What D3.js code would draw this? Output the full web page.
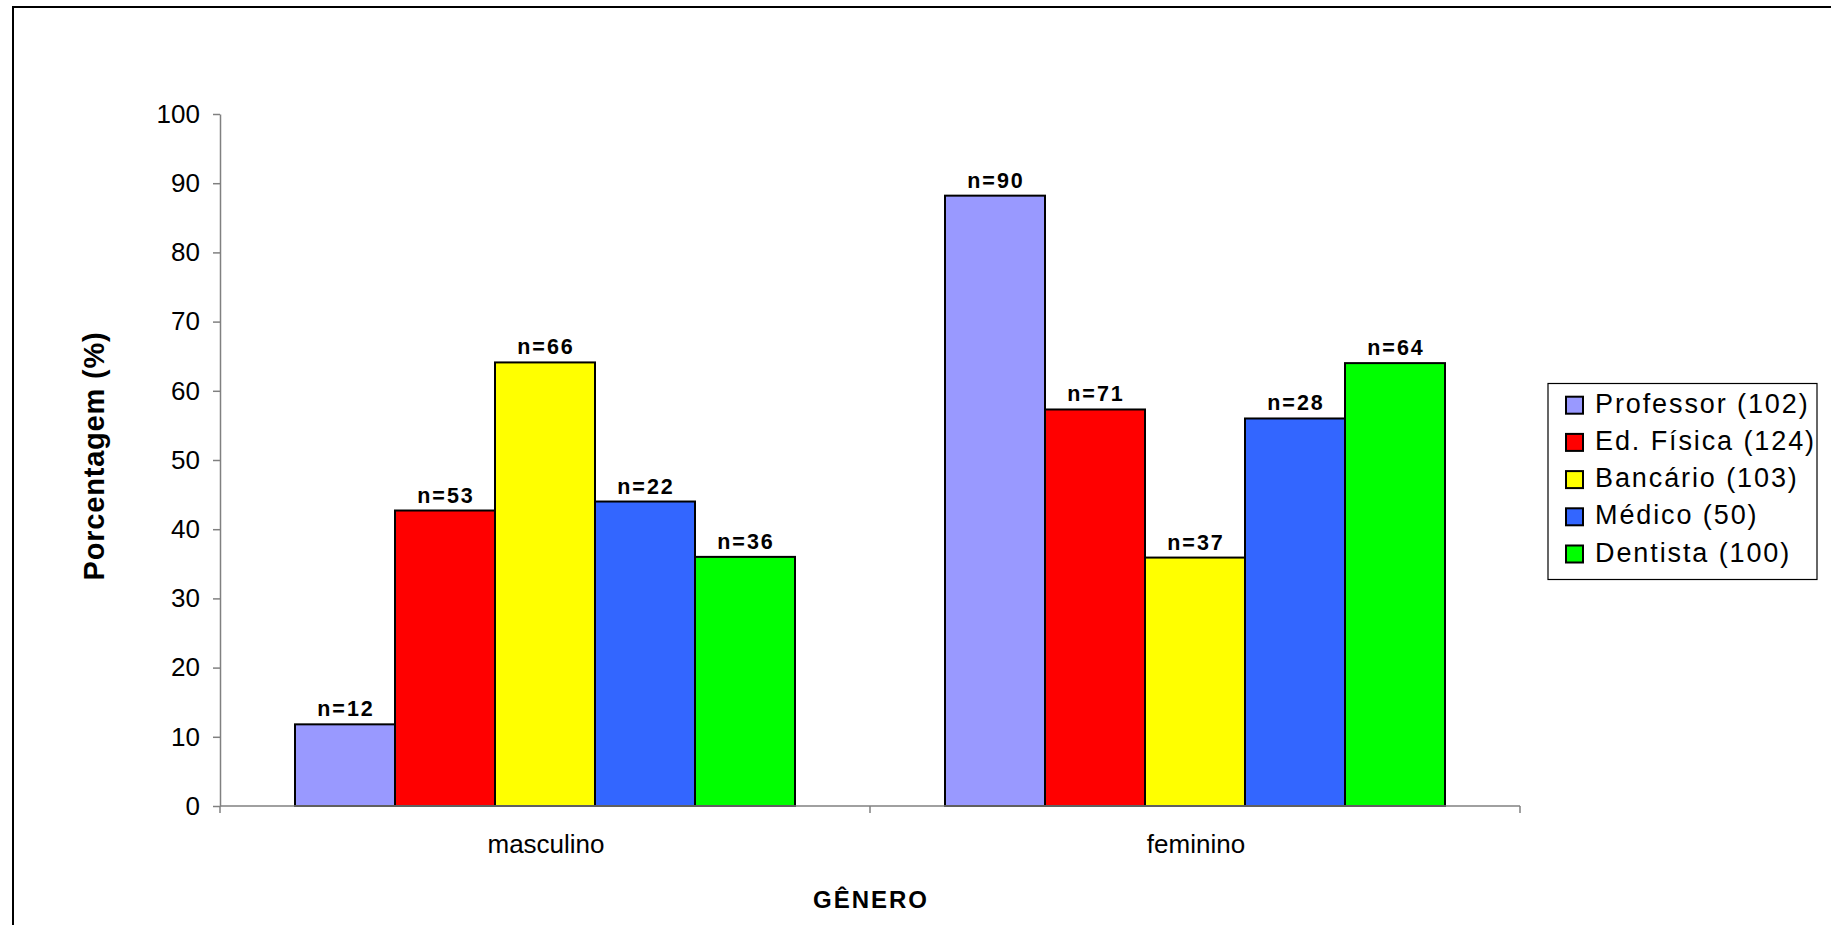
<!DOCTYPE html>
<html>
<head>
<meta charset="utf-8">
<script src="https://cdn.jsdelivr.net/npm/d3@7"></script>
<style>
  html, body { margin: 0; padding: 0; background: #fff; }
  svg { display: block; font-family: Arial, "Liberation Sans", sans-serif; }
</style>
</head>
<body>
<svg id="chart" width="1831" height="925"></svg>
<script>
// Gender groups on the x axis
const categories = ["masculino", "feminino"];

// Professions (series) and their sample totals shown in the legend
const professions = ["Professor", "Ed. Física", "Bancário", "Médico", "Dentista"];
const totals = [102, 124, 103, 50, 100];
const colors = ["#9999FF", "#FF0000", "#FFFF00", "#3366FF", "#00FF00"];

// Percentage by gender for each profession
const pctMasculino = [11.8, 42.7, 64.1, 44, 36];
const pctFeminino  = [88.2, 57.3, 35.9, 56, 64];

// Absolute counts printed above each bar
const nMasculino = [12, 53, 66, 22, 36];
const nFeminino  = [90, 71, 37, 28, 64];

// Y axis tick values
const yTicks = [0, 10, 20, 30, 40, 50, 60, 70, 80, 90, 100];

const pctByCat = { masculino: pctMasculino, feminino: pctFeminino };
const nByCat = { masculino: nMasculino, feminino: nFeminino };

const svg = d3.select("#chart");

// Outer frame
svg.append("rect")
  .attr("x", 13).attr("y", 7)
  .attr("width", 1840).attr("height", 940)
  .attr("fill", "none").attr("stroke", "#000").attr("stroke-width", 2);

const plot = { left: 220, right: 1520, top: 114, bottom: 806 };

const x0 = d3.scaleBand().domain(categories).range([plot.left, plot.right]);
const x1 = d3.scaleBand().domain(professions).range([0, x0.bandwidth()])
  .paddingInner(0).paddingOuter(0.75);
const y = d3.scaleLinear().domain([0, 100]).range([plot.bottom, plot.top]);

// Y axis
const yAxis = svg.append("g")
  .attr("transform", `translate(${plot.left},0)`)
  .call(d3.axisLeft(y).tickValues(yTicks).tickSize(7).tickSizeOuter(0).tickPadding(13));
yAxis.select(".domain").attr("stroke", "#808080").attr("stroke-width", 1.5);
yAxis.selectAll(".tick line").attr("stroke", "#808080").attr("stroke-width", 1.5);
yAxis.selectAll(".tick text")
  .attr("font-size", 26).attr("fill", "#000")
  .attr("font-family", "Arial, 'Liberation Sans', sans-serif");

// Bars
const rows = [];
categories.forEach(c => professions.forEach((p, i) => rows.push({
  cat: c, prof: p, i, pct: pctByCat[c][i], n: nByCat[c][i]
})));

const bars = svg.append("g");
bars.selectAll("rect")
  .data(rows)
  .join("rect")
  .attr("x", d => x0(d.cat) + x1(d.prof))
  .attr("y", d => y(d.pct))
  .attr("width", x1.bandwidth())
  .attr("height", d => y(0) - y(d.pct))
  .attr("fill", d => colors[d.i])
  .attr("stroke", "#000")
  .attr("stroke-width", 2);

// Count labels above bars
bars.selectAll("text")
  .data(rows)
  .join("text")
  .attr("x", d => x0(d.cat) + x1(d.prof) + x1.bandwidth() / 2 + 1)
  .attr("y", d => y(d.pct) - 8)
  .attr("text-anchor", "middle")
  .attr("font-size", 21.5)
  .attr("font-weight", "bold")
  .style("letter-spacing", "2px")
  .text(d => `n=${d.n}`);

// X axis baseline and group boundary ticks
const xAxis = svg.append("g");
xAxis.append("line")
  .attr("x1", plot.left).attr("x2", plot.right)
  .attr("y1", y(0)).attr("y2", y(0))
  .attr("stroke", "#808080").attr("stroke-width", 1.5);
const edges = [plot.left].concat(categories.map(c => x0(c) + x0.bandwidth()));
xAxis.selectAll("line.edge")
  .data(edges)
  .join("line")
  .attr("class", "edge")
  .attr("x1", d => d).attr("x2", d => d)
  .attr("y1", y(0)).attr("y2", y(0) + 7)
  .attr("stroke", "#808080").attr("stroke-width", 1.5);
xAxis.selectAll("text")
  .data(categories)
  .join("text")
  .attr("x", d => x0(d) + x0.bandwidth() / 2 + 1)
  .attr("y", 853)
  .attr("text-anchor", "middle")
  .attr("font-size", 26)
  .text(d => d);

// Axis titles
svg.append("text")
  .attr("x", 871).attr("y", 908)
  .attr("text-anchor", "middle")
  .attr("font-size", 24).attr("font-weight", "bold")
  .style("letter-spacing", "2px")
  .text("GÊNERO");

svg.append("text")
  .attr("transform", "translate(104,456) rotate(-90)")
  .attr("text-anchor", "middle")
  .attr("font-size", 29).attr("font-weight", "bold")
  .style("letter-spacing", "0.8px")
  .text("Porcentagem (%)");

// Legend
const legend = svg.append("g");
legend.append("rect")
  .attr("x", 1548).attr("y", 383.5)
  .attr("width", 269).attr("height", 196)
  .attr("fill", "#fff").attr("stroke", "#000").attr("stroke-width", 1.2);
const items = legend.selectAll("g.item")
  .data(professions)
  .join("g")
  .attr("class", "item")
  .attr("transform", (d, i) => `translate(0,${412.7 + i * 37.2})`);
items.append("rect")
  .attr("x", 1566).attr("y", -16)
  .attr("width", 17).attr("height", 17)
  .attr("fill", (d, i) => colors[i])
  .attr("stroke", "#000").attr("stroke-width", 2);
items.append("text")
  .attr("x", 1595).attr("y", 0)
  .attr("font-size", 27)
  .style("letter-spacing", "1.9px")
  .text((d, i) => `${d} (${totals[i]})`);
</script>
</body>
</html>
